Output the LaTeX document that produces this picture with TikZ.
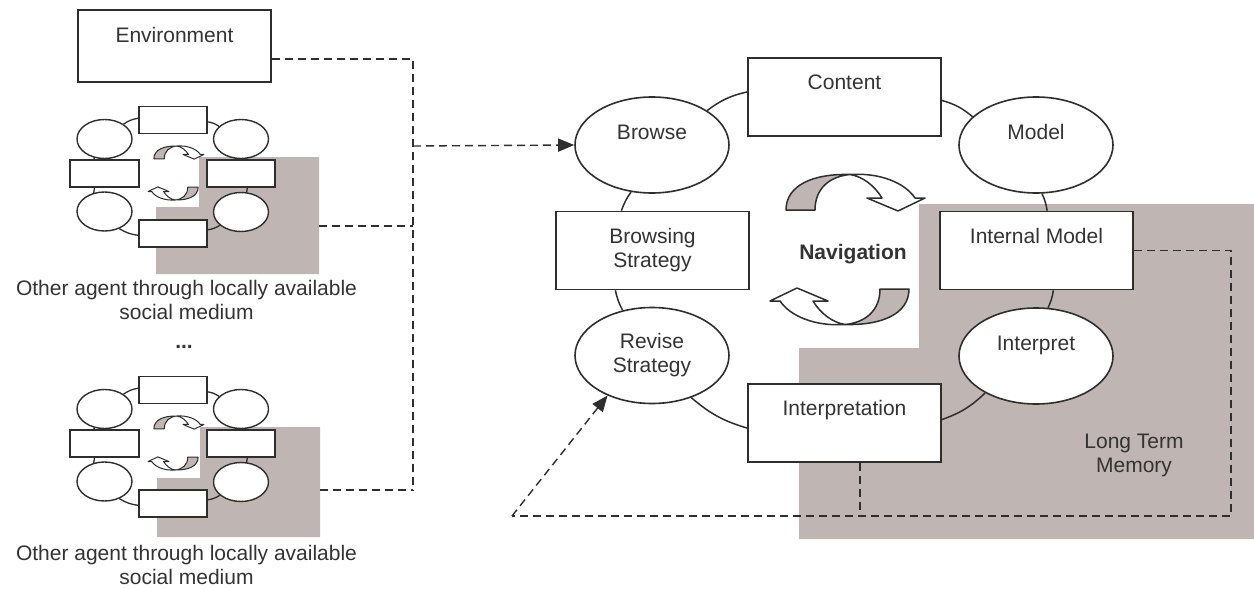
\documentclass[tikz,border=0pt]{standalone}
\usepackage{fontspec}
\setmainfont{Liberation Sans}
\usetikzlibrary{shapes.geometric,arrows.meta}
\definecolor{ln}{HTML}{2E2E2E}
\definecolor{gr}{HTML}{BFB5B2}
\definecolor{tx}{HTML}{333333}
% one curved ribbon arrow, centred on the pair centre
\newcommand\navarrow[1]{%
  \filldraw[fill=gr, draw=ln, line width=#1, line join=round]
    (-61.5,-39.5) -- (-32.5,-39.5) .. controls (-32.5,-61) and (-18,-73) .. (2.5,-75)
    .. controls (-35,-76) and (-61.5,-64) .. (-61.5,-39.5) -- cycle;
  \filldraw[fill=white, draw=ln, line width=#1, line join=round]
    (2.5,-75) .. controls (32,-77) and (57,-67) .. (67.5,-51.5) -- (77.5,-51.5)
    -- (50.5,-38.5) -- (19.5,-51.5) -- (34.5,-51.5)
    .. controls (27,-64) and (15,-73) .. (2.5,-75) -- cycle;
}
\newcommand\agentpic[2]{%
  \begin{scope}[shift={(0,#2)}]
    \node[sbox] (#1t) at (173,120) {};
    \node[sell] (#1ul) at (104.5,139) {};
    \node[sell] (#1ur) at (241,139) {};
    \node[sbox, minimum width=69pt] (#1l) at (104.5,173.5) {};
    \node[sbox] (#1r) at (241,173.5) {};
    \node[sell] (#1ll) at (104.5,211.5) {};
    \node[sell] (#1lr) at (241,212) {};
    \node[sbox] (#1b) at (173,233.5) {};
    \draw[slink] (#1ul.38) to[bend left=12] (#1t.177);
    \draw[slink] (#1t.357) to[bend left=12] (#1ur.150);
    \draw[slink] (#1ur.278) to[bend left=8] (#1r.70);
    \draw[slink] (#1r.294) to[bend left=8] (#1lr.74);
    \draw[slink] (#1lr.212) to[bend left=12] (#1b.6);
    \draw[slink] (#1b.183) to[bend left=12] (#1ll.311);
    \draw[slink] (#1ll.120) to[bend left=8] (#1l.235);
    \draw[slink] (#1l.125) to[bend left=8] (#1ul.240);
    \begin{scope}[shift={(176,173)}, scale=0.36]
      \navarrow{1pt}
    \end{scope}
    \begin{scope}[shift={(176,173)}, scale=0.36, rotate=180]
      \navarrow{1pt}
    \end{scope}
  \end{scope}
}
\begin{document}
\begin{tikzpicture}[x=1pt,y=-1pt,
  every node/.style={font=\fontsize{21}{24}\selectfont, text=tx},
  box/.style={draw=ln, line width=1.6pt, fill=white, rectangle, minimum width=193pt, minimum height=78pt, inner sep=2pt},
  oval/.style={draw=ln, line width=1.6pt, fill=white, ellipse, minimum width=154pt, minimum height=96pt, inner sep=2pt},
  sbox/.style={draw=ln, line width=1.4pt, fill=white, rectangle, minimum width=68pt, minimum height=27pt, inner sep=0pt},
  sell/.style={draw=ln, line width=1.4pt, fill=white, ellipse, minimum width=55pt, minimum height=39pt, inner sep=0pt},
  link/.style={draw=ln, line width=1.5pt},
  slink/.style={draw=ln, line width=1.3pt},
  dashline/.style={draw=ln, line width=1.4pt, dash pattern=on 8pt off 5pt},
  lbl/.style={align=center}
]
\useasboundingbox (0,0) rectangle (1254,589);

% grey areas
\fill[gr] (919,204) -- (1254,204) -- (1254,539) -- (799,539) -- (799,348) -- (919,348) -- cycle;
\fill[gr] (156,207) -- (199,207) -- (199,157) -- (319,157) -- (319,274) -- (156,274) -- cycle;
\fill[gr] (157,478) -- (200,478) -- (200,427) -- (320,427) -- (320,537) -- (157,537) -- cycle;

% left side
\node[box, minimum height=72pt, text depth=23pt] (env) at (174.5,46) {Environment};
\agentpic{a}{0}
\agentpic{b}{270}
\node[lbl] (cap1) at (186.5,300) {Other agent through locally available\\social medium};
\node (dots) at (184,347) {\textbf{...}};
\node[lbl] (cap2) at (186.5,565) {Other agent through locally available\\social medium};

% main cycle
\node[box, text depth=29pt] (content) at (844.5,97) {Content};
\node[oval, text depth=26pt] (browse) at (652,145) {Browse};
\node[oval, text depth=26pt] (model) at (1036,145) {Model};
\node[box, align=center] (bstrat) at (652.5,250.5) {Browsing\\Strategy};
\node[box, text depth=30pt] (intm) at (1036.5,250.5) {Internal Model};
\node[oval, align=center] (revise) at (652,355.5) {Revise\\Strategy};
\node[oval, text depth=25pt] (interpret) at (1036,356) {Interpret};
\node[box, text depth=31pt] (interp) at (844.5,423) {Interpretation};
\node[font=\fontsize{21}{24}\selectfont\bfseries] (nav) at (853,254) {Navigation};
\node[lbl] (ltm) at (1134,455) {Long Term\\Memory};

\begin{scope}[shift={(847.5,249.5)}]
  \navarrow{1.5pt}
\end{scope}
\begin{scope}[shift={(847.5,249.5)}, rotate=180]
  \navarrow{1.5pt}
\end{scope}

\draw[link] (browse.32) to[bend left=12] (content.177);
\draw[link] (content.-2) to[bend left=12] (model.156);
\draw[link] (model.-83) to[bend left=8] (intm.75);
\draw[link] (intm.-67) to[bend left=8] (interpret.76);
\draw[link] (interpret.216) to[bend left=12] (interp.2);
\draw[link] (interp.183) to[bend left=12] (revise.313);
\draw[link] (revise.123) to[bend left=8] (bstrat.227);
\draw[link] (bstrat.128) to[bend left=8] (browse.246);

% dashed connectors
\coordinate (jt) at (413,146);
\coordinate (jb) at (413,490);
\coordinate (g1) at (319,226);
\coordinate (g2) at (320,490);
\draw[dashline] ([yshift=-13pt]env.east) -| (jb);
\draw[dashline] (g1) -- (g1 -| jb);
\draw[dashline] (g2) -- (jb);
\draw[dashline, -{Triangle[length=16pt,width=13pt]}] (jt) -- (browse.west);

\coordinate (rr) at (1231,516);
\coordinate (ll) at (512,516);
\draw[dashline] (intm.east) -| (rr) -- (ll);
\draw[dashline] ([xshift=15.5pt]interp.south) -- ([xshift=15.5pt]interp.south |- rr);
\draw[dashline, -{Triangle[length=16pt,width=13pt]}] (ll) -- (revise.222);
\end{tikzpicture}
\end{document}
